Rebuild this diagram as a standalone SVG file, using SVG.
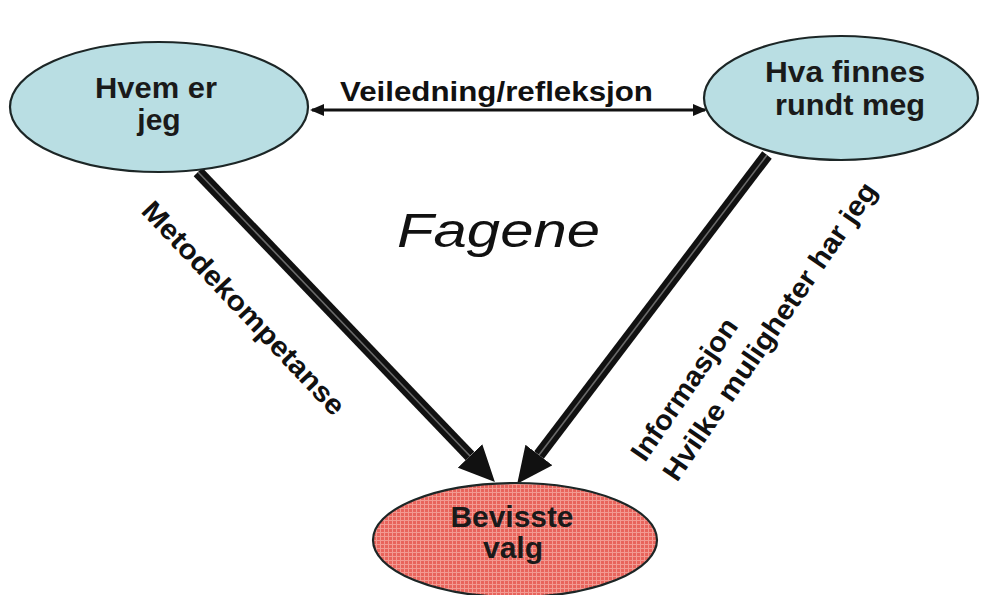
<svg xmlns="http://www.w3.org/2000/svg" width="984" height="595" viewBox="0 0 984 595">
<style>
.node{stroke:#1c2626;stroke-width:2.2}
.blue{fill:#b9dee3}
.lbl{font-family:"Liberation Sans",Arial,sans-serif;font-weight:bold;fill:#111;font-size:28px}
.ntext{font-family:"Liberation Sans",Arial,sans-serif;font-weight:bold;fill:#1a1a1a;font-size:30px;text-anchor:middle}
.thick{stroke:#111;stroke-width:12;fill:none}
.stripe{stroke:#6a6a6a;stroke-width:1.6;fill:none}
.thin{stroke:#111;stroke-width:3;fill:none}
</style>
<defs>
<pattern id="grid" width="4" height="4" patternUnits="userSpaceOnUse">
<rect width="4" height="4" fill="#e8645c"/>
<path d="M0,0.5 H4 M0.5,0 V4" stroke="#f29a92" stroke-width="1"/>
</pattern>
<marker id="bighead" markerUnits="userSpaceOnUse" markerWidth="36" markerHeight="34" viewBox="0 0 36 34" refX="0" refY="17" orient="auto">
<path d="M0,0 L36,17 L0,34 z" fill="#111"/>
</marker>
<marker id="smallhead" markerUnits="userSpaceOnUse" markerWidth="14" markerHeight="12" viewBox="0 0 14 12" refX="12" refY="6" orient="auto-start-reverse">
<path d="M0,0 L14,6 L0,12 z" fill="#111"/>
</marker>
</defs>
<rect width="984" height="595" fill="#ffffff"/>

<g id="connectors">
<line class="thin" x1="312" y1="110" x2="705" y2="110" marker-start="url(#smallhead)" marker-end="url(#smallhead)"/>
<path class="thick" d="M198,172 L470,456" marker-end="url(#bighead)"/>
<path class="stripe" d="M198,172 L470,456"/>
<path class="thick" d="M767,155 L539,455" marker-end="url(#bighead)"/>
<path class="stripe" d="M767,155 L539,455"/>
</g>

<g id="node-hvem">
<ellipse class="node blue" cx="159" cy="107" rx="149" ry="65"/>
<text class="ntext" x="156" y="98" textLength="122" lengthAdjust="spacingAndGlyphs">Hvem er</text>
<text class="ntext" x="159" y="130">jeg</text>
</g>

<g id="node-hva">
<ellipse class="node blue" cx="841" cy="98" rx="137" ry="62"/>
<text class="ntext" x="845" y="82" textLength="160" lengthAdjust="spacingAndGlyphs">Hva finnes</text>
<text class="ntext" x="850" y="115" textLength="150" lengthAdjust="spacingAndGlyphs">rundt meg</text>
</g>

<g id="node-bevisste">
<ellipse class="node" fill="url(#grid)" cx="515" cy="540" rx="142" ry="57"/>
<text class="ntext" x="512" y="527" fill="#2a0a0a" textLength="123" lengthAdjust="spacingAndGlyphs">Bevisste</text>
<text class="ntext" x="513" y="558" fill="#2a0a0a">valg</text>
</g>

<g id="labels">
<text class="lbl" x="340" y="101" textLength="313" lengthAdjust="spacingAndGlyphs">Veiledning/refleksjon</text>
<text class="lbl" transform="translate(140,212) rotate(46.7)" textLength="282" lengthAdjust="spacingAndGlyphs">Metodekompetanse</text>
<text class="lbl" transform="translate(645,463) rotate(-55.5)" textLength="166" lengthAdjust="spacingAndGlyphs">Informasjon</text>
<text class="lbl" transform="translate(677,483) rotate(-55.5)" textLength="355" lengthAdjust="spacingAndGlyphs">Hvilke muligheter har jeg</text>
<text x="397" y="247" font-family="'Liberation Sans',Arial,sans-serif" font-style="italic" font-size="48" fill="#111" textLength="203" lengthAdjust="spacingAndGlyphs">Fagene</text>
</g>
</svg>
